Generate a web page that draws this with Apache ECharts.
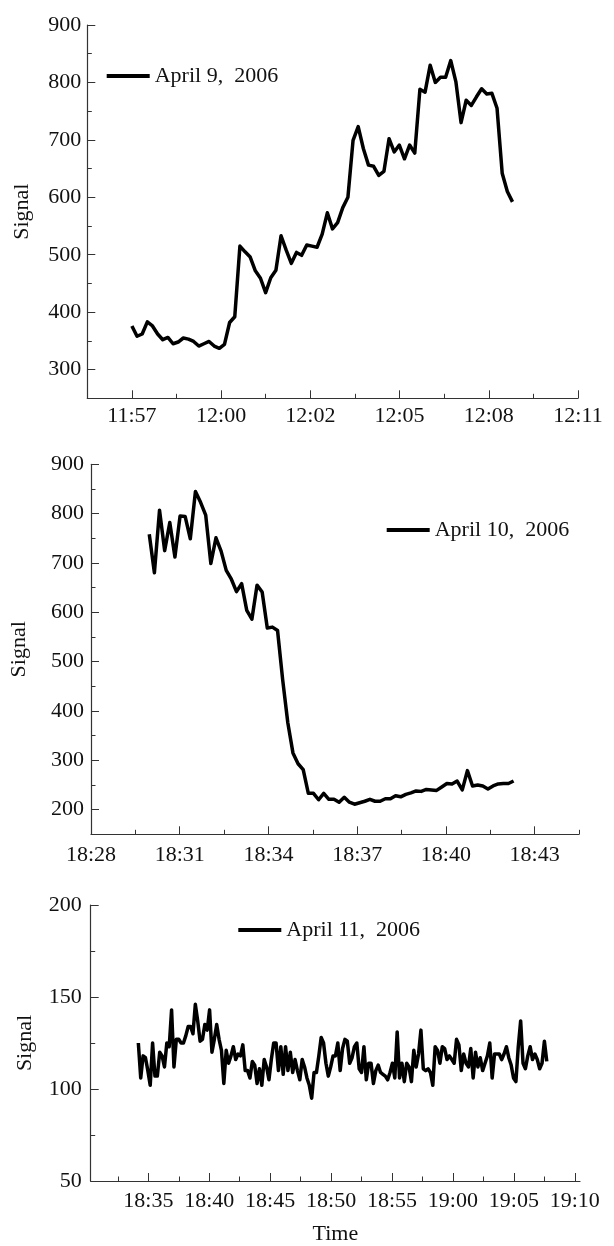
<!DOCTYPE html>
<html><head><meta charset="utf-8">
<script src="https://cdn.jsdelivr.net/npm/echarts@6/dist/echarts.min.js"></script>
<style>html,body{margin:0;padding:0;background:#fff}#c{width:614px;height:1246px}</style>
</head><body><div id="c"></div>
<script>
// ---------- Panel 1: April 9, 2006 (x in minutes after 11:57) ----------
const apr9Name = 'April 9, 2006';
const apr9Start = 0.0;
const apr9Step = 0.1614;
const apr9Values = [376,358,362,383,376,362,352,356,345,348,355,353,349,341,345,349,341,337,344,382,
  392,515,505,496,472,459,434,460,473,533,508,485,504,499,517,515,513,536,573,545,
  556,582,600,699,723,685,656,654,638,645,702,679,691,667,691,677,788,783,830,800,
  809,809,838,801,730,769,760,775,789,780,781,755,642,610,592];
const apr9TickPos = [0, 2.8, 5.6, 8.4, 11.2, 14.0];
const apr9TickLabels = ['11:57','12:00','12:02','12:05','12:08','12:11'];
const apr9MinorPos = [-1.4, 1.4, 4.2, 7.0, 9.8, 12.6];
const apr9YTicks = [300,400,500,600,700,800,900];
const apr9YMinor = [250,350,450,550,650,750,850];

// ---------- Panel 2: April 10, 2006 (x in minutes after 18:28) ----------
const apr10Name = 'April 10, 2006';
const apr10Start = 1.97;
const apr10Step = 0.1735;
const apr10Values = [758,680,807,725,782,712,795,794,749,845,823,797,699,751,724,685,667,642,658,604,
  586,655,641,568,570,563,463,376,315,293,281,233,233,220,233,221,221,215,225,215,
  211,214,217,221,217,217,222,222,228,226,231,234,238,237,241,240,239,246,253,252,
  258,240,279,248,250,248,242,248,252,253,253,258];
const apr10TickPos = [0, 3, 6, 9, 12, 15];
const apr10TickLabels = ['18:28','18:31','18:34','18:37','18:40','18:43'];
const apr10MinorPos = [1.5, 4.5, 7.5, 10.5, 13.5, 16.5];
const apr10YTicks = [200,300,400,500,600,700,800,900];
const apr10YMinor = [150,250,350,450,550,650,750,850];

// ---------- Panel 3: April 11, 2006 (x in minutes after 18:35) ----------
const apr11Name = 'April 11, 2006';
const apr11Start = -0.82;
const apr11Step = 0.1949;
const apr11Values = [125,106,118,117,110,102,125,107,107,120,
  118,112,125,123,143,112,127,127,125,125,
  129,134,134,130,146,137,126,127,135,132,
  143,120,127,135,127,121,103,121,114,118,
  123,116,119,118,124,110,110,106,115,113,
  103,111,102,116,112,105,116,125,125,110,
  123,108,123,110,120,109,116,110,105,116,
  112,106,102,95,109,109,118,128,125,114,
  107,112,118,118,125,110,122,127,126,114,
  117,123,125,111,109,123,105,114,114,103,
  110,113,109,108,107,105,109,114,106,131,
  106,114,104,114,112,104,121,112,119,132,
  111,110,111,109,102,123,121,114,123,122,
  116,118,116,114,127,124,110,119,114,112,
  122,106,120,112,117,110,114,118,125,106,
  119,119,119,116,119,123,117,113,106,104,
  123,137,114,111,118,123,116,119,116,111,
  114,126,115];
const apr11TickPos = [0, 5, 10, 15, 20, 25, 30, 35];
const apr11TickLabels = ['18:35','18:40','18:45','18:50','18:55','19:00','19:05','19:10'];
const apr11MinorPos = [-2.5, 2.5, 7.5, 12.5, 17.5, 22.5, 27.5, 32.5];
const apr11YTicks = [50,100,150,200];
const apr11YMinor = [75,125,175];

const FONT = 'Liberation Serif';
const TXT = '#111';
const AX = '#333';

function pairs(start, step, vals) {
  return vals.map((v, i) => [start + i * step, v]);
}
function lookup(pos, labels) {
  return function (v) {
    for (let i = 0; i < pos.length; i++) if (Math.abs(pos[i] - v) < 1e-6) return labels[i];
    return '';
  };
}

const panels = [
  { name: apr9Name, data: pairs(apr9Start, apr9Step, apr9Values),
    grid: { left: 87.3, top: 25, width: 490.7, height: 373.3 },
    xMin: -1.4, xMax: 14.0, xTicks: apr9TickPos, xLabels: apr9TickLabels, xMinor: apr9MinorPos, xMargin: 7,
    yMin: 250, yMax: 900, yTicks: apr9YTicks, yMinor: apr9YMinor, yMargin: 6, nameGap: 54,
    legend: { left: 106.7, top: 65 }, xName: '' },
  { name: apr10Name, data: pairs(apr10Start, apr10Step, apr10Values),
    grid: { left: 88, top: 464.3, width: 491, height: 370 },
    xMin: 0, xMax: 16.5, xTicks: apr10TickPos, xLabels: apr10TickLabels, xMinor: apr10MinorPos, xMargin: 10,
    yMin: 150, yMax: 900, yTicks: apr10YTicks, yMinor: apr10YMinor, yMargin: 7, nameGap: 61,
    legend: { left: 386.7, top: 519 }, xName: '' },
  { name: apr11Name, data: pairs(apr11Start, apr11Step, apr11Values),
    grid: { left: 90.7, top: 905, width: 489.3, height: 277.7 },
    xMin: -4.73, xMax: 35.43, xTicks: apr11TickPos, xLabels: apr11TickLabels, xMinor: apr11MinorPos, xMargin: 9,
    yMin: 50, yMax: 200, yTicks: apr11YTicks, yMinor: apr11YMinor, yMargin: 9, nameGap: 54,
    legend: { left: 238.3, top: 919 }, xName: 'Time' }
];

const option = { animation: false, backgroundColor: '#fff', grid: [], xAxis: [], yAxis: [], series: [], legend: [] };
panels.forEach((p, i) => {
  option.grid.push(Object.assign({ containLabel: false }, p.grid));
  const xi = option.xAxis.length;
  option.xAxis.push({
    gridIndex: i, type: 'value', min: p.xMin, max: p.xMax, position: 'bottom',
    name: p.xName, nameLocation: 'middle', nameGap: 42,
    nameTextStyle: { fontFamily: FONT, fontSize: 22, color: TXT },
    axisLine: { show: true, onZero: false, lineStyle: { color: AX, width: 1.2 } },
    axisTick: { show: true, inside: true, length: 8, customValues: p.xTicks, lineStyle: { color: AX, width: 1 } },
    axisLabel: { customValues: p.xTicks, formatter: lookup(p.xTicks, p.xLabels), margin: p.xMargin,
      fontFamily: FONT, fontSize: 22, color: TXT, lineHeight: 22 },
    splitLine: { show: false }
  });
  option.xAxis.push({
    gridIndex: i, type: 'value', min: p.xMin, max: p.xMax, position: 'bottom',
    axisLine: { show: false, onZero: false },
    axisTick: { show: true, inside: true, length: 4.5, customValues: p.xMinor, lineStyle: { color: AX, width: 1 } },
    axisLabel: { show: false }, splitLine: { show: false }
  });
  const yi = option.yAxis.length;
  option.yAxis.push({
    gridIndex: i, type: 'value', min: p.yMin, max: p.yMax, position: 'left',
    name: 'Signal', nameLocation: 'middle', nameGap: p.nameGap,
    nameTextStyle: { fontFamily: FONT, fontSize: 22, color: TXT },
    axisLine: { show: true, onZero: false, lineStyle: { color: AX, width: 1.2 } },
    axisTick: { show: true, inside: true, length: 8, customValues: p.yTicks, lineStyle: { color: AX, width: 1 } },
    axisLabel: { customValues: p.yTicks, margin: p.yMargin, fontFamily: FONT, fontSize: 22, color: TXT },
    splitLine: { show: false }
  });
  option.yAxis.push({
    gridIndex: i, type: 'value', min: p.yMin, max: p.yMax, position: 'left',
    axisLine: { show: false, onZero: false },
    axisTick: { show: true, inside: true, length: 4.5, customValues: p.yMinor, lineStyle: { color: AX, width: 1 } },
    axisLabel: { show: false }, splitLine: { show: false }
  });
  option.series.push({
    name: p.name, type: 'line', xAxisIndex: xi, yAxisIndex: yi, data: p.data,
    symbol: 'none', smooth: false, lineStyle: { color: '#000', width: 3.5, join: 'round' },
    itemStyle: { color: '#000' }
  });
  option.legend.push({
    data: [{ name: p.name, icon: 'rect' }], left: p.legend.left, top: p.legend.top, orient: 'horizontal',
    itemWidth: 43, itemHeight: 4, padding: 0,
    formatter: (n) => n.replace(', ', ',  '),
    itemStyle: { color: '#000', borderWidth: 0 },
    textStyle: { fontFamily: FONT, fontSize: 22, color: TXT },
    selectedMode: false
  });
});

const chart = echarts.init(document.getElementById('c'), null, { renderer: 'canvas' });
chart.setOption(option);
</script>
</body></html>
